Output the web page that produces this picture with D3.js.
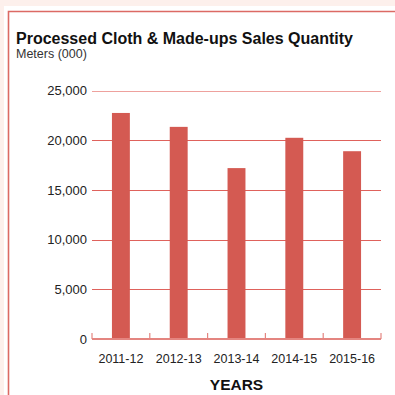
<!DOCTYPE html>
<html>
<head>
<meta charset="utf-8">
<script src="https://cdn.jsdelivr.net/npm/d3@7/dist/d3.min.js"></script>
<style>
  html, body { margin: 0; padding: 0; background: #fdf0ec; }
  svg { display: block; }
</style>
</head>
<body>
<script>
// Sales quantity, meters (000), by fiscal year
const years = ["2011-12", "2012-13", "2013-14", "2014-15", "2015-16"];
const quantities = [22750, 21350, 17200, 20250, 18900];
const yTicks = [0, 5000, 10000, 15000, 20000, 25000];

const W = 395, H = 395;
const svg = d3.select("body").append("svg").attr("width", W).attr("height", H);

// card panel with red frame on top and left
svg.append("rect").attr("x", 4).attr("y", 6).attr("width", W - 4).attr("height", H - 6).attr("fill", "#ffffff");
svg.append("path")
  .attr("d", `M8.5,${H} V11.5 H${W}`)
  .attr("fill", "none").attr("stroke", "#dc6a64").attr("stroke-width", 1.6);

const font = "'Liberation Sans', Arial, Helvetica, sans-serif";

svg.append("text").attr("x", 16).attr("y", 44)
  .attr("font-family", font).attr("font-size", 16).attr("font-weight", "bold")
  .attr("fill", "#111").text("Processed Cloth & Made-ups Sales Quantity");
svg.append("text").attr("x", 16).attr("y", 57.5)
  .attr("font-family", font).attr("font-size", 12.5).attr("fill", "#333")
  .text("Meters (000)");

const plotLeft = 92, plotRight = 381, plotTop = 90.6, plotBottom = 339;
const x = d3.scaleBand().domain(years).range([plotLeft, plotRight]).paddingInner(0.69).paddingOuter(0.345);
const y = d3.scaleLinear().domain([0, 25000]).range([plotBottom, plotTop]);

// gridlines
svg.append("g").selectAll("line").data(yTicks.filter(d => d > 0)).join("line")
  .attr("x1", plotLeft).attr("x2", plotRight)
  .attr("y1", d => Math.round(y(d)) + 0.5).attr("y2", d => Math.round(y(d)) + 0.5)
  .attr("stroke", d => d === 25000 ? "#eea19d" : "#df625c").attr("stroke-width", 1.2);

// y axis labels
const yAxis = d3.axisLeft(y).tickValues(yTicks).tickSize(0).tickPadding(0)
  .tickFormat(d3.format(","));
const gy = svg.append("g").attr("transform", `translate(${plotLeft - 5},0)`).call(yAxis);
gy.select(".domain").remove();
gy.selectAll("text").attr("font-family", font).attr("font-size", 13).attr("fill", "#222");

// bars
svg.append("g").selectAll("rect").data(quantities).join("rect")
  .attr("x", (d, i) => x(years[i]))
  .attr("width", x.bandwidth())
  .attr("y", d => y(d))
  .attr("height", d => y(0) - y(d))
  .attr("fill", "#d45a52");

// baseline with category ticks
const tickXs = d3.range(years.length + 1).map(i => plotLeft + i * (plotRight - plotLeft) / years.length);
svg.append("line").attr("x1", plotLeft).attr("x2", plotRight).attr("y1", plotBottom).attr("y2", plotBottom)
  .attr("stroke", "#e48580").attr("stroke-width", 2);
svg.append("g").selectAll("line").data(tickXs).join("line")
  .attr("x1", d => d).attr("x2", d => d).attr("y1", plotBottom).attr("y2", plotBottom - 6)
  .attr("stroke", "#e48580").attr("stroke-width", 1.2);

// x axis labels
const xAxis = d3.axisBottom(x).tickSize(0).tickPadding(0);
const gx = svg.append("g").attr("transform", `translate(0,${plotBottom + 15})`).call(xAxis);
gx.select(".domain").remove();
gx.selectAll("text").attr("font-family", font).attr("font-size", 12.5).attr("fill", "#222");

svg.append("text").attr("x", (plotLeft + plotRight) / 2).attr("y", 390)
  .attr("text-anchor", "middle")
  .attr("font-family", font).attr("font-size", 15.5).attr("font-weight", "bold")
  .attr("fill", "#111").text("YEARS");
</script>
</body>
</html>
